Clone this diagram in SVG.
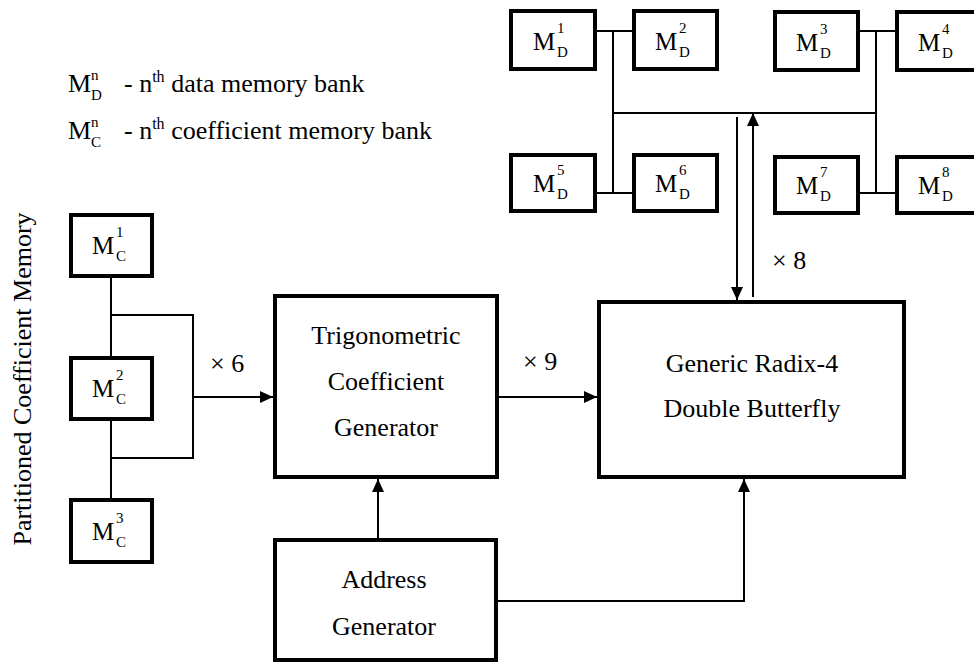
<svg xmlns="http://www.w3.org/2000/svg" width="974" height="663" viewBox="0 0 974 663" font-family="Liberation Serif, serif">
<style>
.box{fill:#fff;stroke:#000;stroke-width:4}
.ln{fill:none;stroke:#000;stroke-width:2}
text{fill:#000;font-family:"Liberation Serif", serif}
.t{font-size:26px}
.c{text-anchor:middle}
.m{font-size:25px}
.s{font-size:15px}
</style>
<defs>
<marker id="ah" markerUnits="userSpaceOnUse" markerWidth="13" markerHeight="12" refX="13" refY="6" orient="auto">
<path d="M0,0 L13,6 L0,12 z" fill="#000"/>
</marker>
</defs>
<rect width="974" height="663" fill="#fff"/>

<g id="connectors">
<line class="ln" x1="597" y1="31" x2="632" y2="31"/>
<line class="ln" x1="860" y1="31" x2="895" y2="31"/>
<line class="ln" x1="597" y1="193" x2="632" y2="193"/>
<line class="ln" x1="860" y1="193" x2="895" y2="193"/>
<line class="ln" x1="613" y1="31" x2="613" y2="193"/>
<line class="ln" x1="876" y1="31" x2="876" y2="193"/>
<line class="ln" x1="613" y1="113" x2="876" y2="113"/>
<line class="ln" x1="753" y1="297" x2="753" y2="113" marker-end="url(#ah)"/>
<line class="ln" x1="737" y1="117" x2="737" y2="300" marker-end="url(#ah)"/>
<line class="ln" x1="111" y1="278" x2="111" y2="356"/>
<line class="ln" x1="111" y1="421" x2="111" y2="498"/>
<polyline class="ln" points="111,315 193,315 193,458 111,458"/>
<line class="ln" x1="193" y1="397" x2="273" y2="397" marker-end="url(#ah)"/>
<line class="ln" x1="498" y1="397" x2="597" y2="397" marker-end="url(#ah)"/>
<line class="ln" x1="378" y1="538" x2="378" y2="479" marker-end="url(#ah)"/>
<polyline class="ln" points="497,601 744,601 744,479" marker-end="url(#ah)"/>
</g>

<g id="legend">
<text class="t" x="68" y="92">M</text>
<text class="s" x="91" y="80">n</text>
<text class="s" x="91" y="100">D</text>
<text class="t" x="124" y="92">- n<tspan font-size="16" dy="-10">th</tspan><tspan dy="10"> data memory bank</tspan></text>
<text class="t" x="68" y="139">M</text>
<text class="s" x="91" y="127">n</text>
<text class="s" x="91" y="147">C</text>
<text class="t" x="124" y="139">- n<tspan font-size="16" dy="-10">th</tspan><tspan dy="10"> coefficient memory bank</tspan></text>
</g>

<g id="partition-label">
<text class="t c" transform="translate(31,379) rotate(-90)">Partitioned Coefficient Memory</text>
</g>

<g id="MD1"><rect class="box" x="511" y="11" width="84" height="58"/>
<text class="m" x="533" y="50">M</text><text class="s" x="557" y="33">1</text><text class="s" x="557" y="57">D</text></g>
<g id="MD2"><rect class="box" x="634" y="11" width="83" height="58"/>
<text class="m" x="655" y="50">M</text><text class="s" x="679" y="33">2</text><text class="s" x="679" y="57">D</text></g>
<g id="MD3"><rect class="box" x="775" y="12" width="83" height="58"/>
<text class="m" x="796" y="51">M</text><text class="s" x="820" y="34">3</text><text class="s" x="820" y="58">D</text></g>
<g id="MD4"><rect class="box" x="897" y="12" width="85" height="58"/>
<text class="m" x="918" y="51">M</text><text class="s" x="942" y="34">4</text><text class="s" x="942" y="58">D</text></g>
<g id="MD5"><rect class="box" x="511" y="155" width="84" height="56"/>
<text class="m" x="533" y="192">M</text><text class="s" x="557" y="175">5</text><text class="s" x="557" y="199">D</text></g>
<g id="MD6"><rect class="box" x="634" y="155" width="83" height="56"/>
<text class="m" x="655" y="192">M</text><text class="s" x="679" y="175">6</text><text class="s" x="679" y="199">D</text></g>
<g id="MD7"><rect class="box" x="775" y="157" width="83" height="56"/>
<text class="m" x="796" y="194">M</text><text class="s" x="820" y="177">7</text><text class="s" x="820" y="201">D</text></g>
<g id="MD8"><rect class="box" x="897" y="157" width="85" height="56"/>
<text class="m" x="918" y="194">M</text><text class="s" x="942" y="177">8</text><text class="s" x="942" y="201">D</text></g>

<g id="MC1"><rect class="box" x="71" y="215" width="81" height="61"/>
<text class="m" x="92" y="254">M</text><text class="s" x="116" y="237">1</text><text class="s" x="116" y="261">C</text></g>
<g id="MC2"><rect class="box" x="71" y="358" width="81" height="61"/>
<text class="m" x="92" y="397">M</text><text class="s" x="116" y="380">2</text><text class="s" x="116" y="404">C</text></g>
<g id="MC3"><rect class="box" x="71" y="500" width="81" height="62"/>
<text class="m" x="92" y="540">M</text><text class="s" x="116" y="523">3</text><text class="s" x="116" y="547">C</text></g>

<g id="trig"><rect class="box" x="275" y="296" width="222" height="181"/>
<text class="t c" x="386" y="344">Trigonometric</text>
<text class="t c" x="386" y="390">Coefficient</text>
<text class="t c" x="386" y="436">Generator</text></g>

<g id="butterfly"><rect class="box" x="599" y="302" width="305" height="175"/>
<text class="t c" x="752" y="372">Generic Radix-4</text>
<text class="t c" x="752" y="417">Double Butterfly</text></g>

<g id="address"><rect class="box" x="275" y="540" width="221" height="120"/>
<text class="t c" x="384" y="588">Address</text>
<text class="t c" x="384" y="635">Generator</text></g>

<g id="labels">
<text class="t" x="210" y="372">× 6</text>
<text class="t" x="523" y="370">× 9</text>
<text class="t" x="772" y="269">× 8</text>
</g>
</svg>
